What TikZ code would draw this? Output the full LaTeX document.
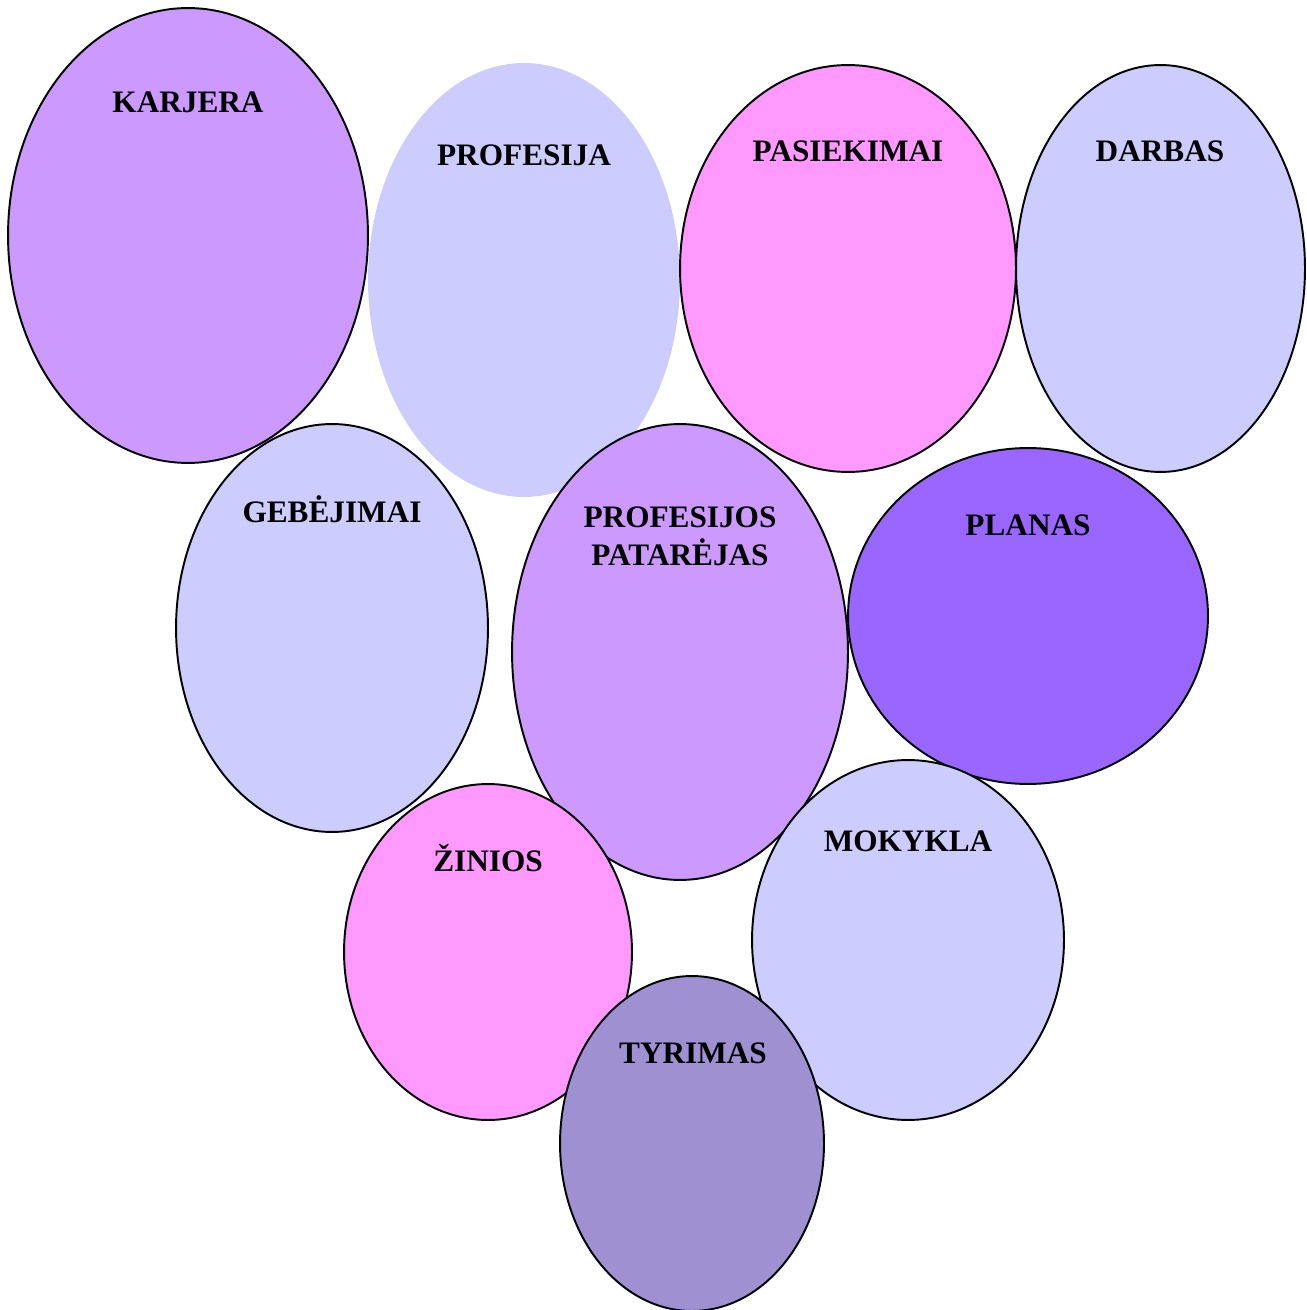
\documentclass[tikz,border=0pt]{standalone}
\usepackage{fontspec}
\setmainfont{Liberation Serif}
\usetikzlibrary{shapes.geometric}

\begin{document}
\begin{tikzpicture}[
    x=0.02cm,
    y=-0.02cm,
    thick
]

% =========================
% Styles
% =========================
\tikzstyle{blob} = [
    ellipse, draw=black,
    line width=1.1pt,
    inner sep=0pt,
    outer sep=0pt
]

\tikzstyle{lbl} = [
    font=\fontsize{17.8}{21.5}\selectfont\bfseries,
    align=center,
    text height=0.66em,
    text depth=0pt,
    inner sep=0pt
]

\definecolor{lila}{HTML}{CC99FF}
\definecolor{melsva}{HTML}{CCCCFF}
\definecolor{rozine}{HTML}{FF99FF}
\definecolor{violetine}{HTML}{9966FF}
\definecolor{pilka}{HTML}{9F91D1}

\useasboundingbox (0,0) rectangle (1306,1310);

% =========================
% Ellipses (FIXED POSITIONS)
% =========================
\node[blob, draw=none, fill=melsva, minimum width=6.24cm, minimum height=8.68cm]
    (profesija) at (524,280) {};
\node[blob, fill=lila, minimum width=7.2cm, minimum height=9.1cm]
    (karjera) at (188,235.5) {};
\node[blob, fill=rozine, minimum width=6.72cm, minimum height=8.14cm]
    (pasiekimai) at (848,268.5) {};
\node[blob, fill=melsva, minimum width=5.78cm, minimum height=8.14cm]
    (darbas) at (1160.5,268.5) {};
\node[blob, fill=melsva, minimum width=6.24cm, minimum height=8.16cm]
    (gebejimai) at (332,628) {};
\node[blob, fill=lila, minimum width=6.72cm, minimum height=9.12cm]
    (patarejas) at (680,652) {};
\node[blob, fill=violetine, minimum width=7.2cm, minimum height=6.72cm]
    (planas) at (1028,616) {};
\node[blob, fill=rozine, minimum width=5.76cm, minimum height=6.72cm]
    (zinios) at (488,952) {};
\node[blob, fill=melsva, minimum width=6.24cm, minimum height=7.2cm]
    (mokykla) at (908,940) {};
\node[blob, fill=pilka, minimum width=5.28cm, minimum height=6.7cm]
    (tyrimas) at (692,1143.5) {};

% =========================
% Labels
% =========================
\node[lbl] (karjeraL) at (188,107) {KARJERA};
\node[lbl] (profesijaL) at (524,160) {PROFESIJA};
\node[lbl] (pasiekimaiL) at (848,156) {PASIEKIMAI};
\node[lbl] (darbasL) at (1160,156) {DARBAS};
\node[lbl] (gebejimaiL) at (332,517) {GEBĖJIMAI};
\node[lbl] (patarejasL) at (680,559.5) {PROFESIJOS\\PATARĖJAS};
\node[lbl] (planasL) at (1028,530) {PLANAS};
\node[lbl] (ziniosL) at (488,866) {ŽINIOS};
\node[lbl] (mokyklaL) at (908,846) {MOKYKLA};
\node[lbl] (tyrimasL) at (693,1058) {TYRIMAS};

\end{tikzpicture}
\end{document}
